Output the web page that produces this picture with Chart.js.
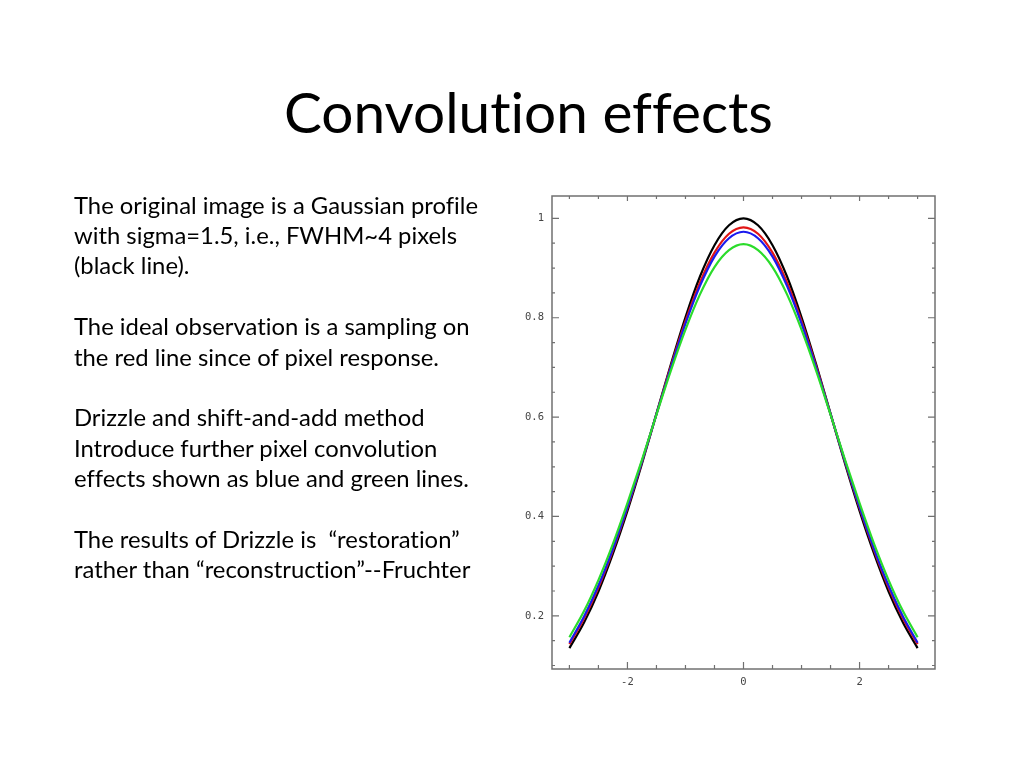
<!DOCTYPE html>
<html><head><meta charset="utf-8">
<script src="https://cdn.jsdelivr.net/npm/chart.js@4"></script>
<style>
html,body{margin:0;padding:0;background:#fff;width:1024px;height:768px;overflow:hidden;}
#c{position:absolute;left:0;top:0;}
.t{position:absolute;white-space:pre;color:#000;font-family:Lato,"Open Sans",sans-serif;font-variant-ligatures:none;font-feature-settings:"liga" 0,"clig" 0;}
</style></head><body>
<canvas id="c" width="1024" height="768"></canvas>
<div id="title" class="t">Convolution effects</div>
<div id="body"></div>
<script>
// ---- data ----
const xValues = [-3,-2.75,-2.5,-2.25,-2,-1.75,-1.5,-1.25,-1,-0.75,-0.5,-0.25,0,0.25,0.5,0.75,1,1.25,1.5,1.75,2,2.25,2.5,2.75,3];
const blackLine = [0.135,0.186,0.249,0.325,0.411,0.506,0.607,0.707,0.801,0.883,0.946,0.986,1.000,0.986,0.946,0.883,0.801,0.707,0.607,0.506,0.411,0.325,0.249,0.186,0.135];
const redLine   = [0.143,0.194,0.257,0.332,0.417,0.510,0.606,0.703,0.793,0.871,0.931,0.969,0.982,0.969,0.931,0.871,0.793,0.703,0.606,0.510,0.417,0.332,0.257,0.194,0.143];
const blueLine  = [0.146,0.198,0.261,0.335,0.419,0.511,0.606,0.700,0.788,0.864,0.923,0.960,0.973,0.960,0.923,0.864,0.788,0.700,0.606,0.511,0.419,0.335,0.261,0.198,0.146];
const greenLine = [0.157,0.209,0.272,0.345,0.427,0.514,0.605,0.694,0.776,0.847,0.902,0.936,0.948,0.936,0.902,0.847,0.776,0.694,0.605,0.514,0.427,0.345,0.272,0.209,0.157];
const xTickValues = [-2,0,2];
const xTickLabels = ['-2','0','2'];
const yTickValues = [0.2,0.4,0.6,0.8,1];
const yTickLabels = ['0.2','0.4','0.6','0.8','1'];
const xMinorTicks = [-3,-2.5,-2,-1.5,-1,-0.5,0,0.5,1,1.5,2,2.5,3];
const yMinorTicks = [0.1,0.15,0.2,0.25,0.3,0.35,0.4,0.45,0.5,0.55,0.6,0.65,0.7,0.75,0.8,0.85,0.9,0.95,1.0];

const titleText = 'Convolution effects';
const bodyLines = [
 'The original image is a Gaussian profile',
 'with sigma=1.5, i.e., FWHM~4 pixels',
 '(black line).',
 '',
 'The ideal observation is a sampling on',
 'the red line since of pixel response.',
 '',
 'Drizzle and shift-and-add method',
 'Introduce further pixel convolution',
 'effects shown as blue and green lines.',
 '',
 'The results of Drizzle is  \u201crestoration\u201d',
 'rather than \u201creconstruction\u201d--Fruchter'
];

// ---- text layout ----
const FONT = 'Lato, "Open Sans", sans-serif';
const mctx = document.createElement('canvas').getContext('2d');
function fontMetrics(size){ mctx.font = size + 'px ' + FONT; return mctx.measureText('Hg'); }
const probe = document.createElement('span');
probe.className = 't'; probe.style.visibility = 'hidden'; probe.style.fontSize = '100px'; probe.style.left = '0'; probe.style.top = '0';
document.body.appendChild(probe);
function domWidth(text){ probe.textContent = text; return probe.getBoundingClientRect().width; }
function place(el, text, size, x, baseline, center){
  const m = fontMetrics(size);
  const A = m.fontBoundingBoxAscent, D = m.fontBoundingBoxDescent;
  el.textContent = text;
  el.style.fontSize = size + 'px';
  el.style.lineHeight = (A + D) + 'px';
  el.style.top = (baseline - A) + 'px';
  const w = domWidth(text) * size / 100;
  el.style.left = (center ? x - w / 2 : x) + 'px';
}
const titleSize = 100 * 489 / domWidth(titleText);
place(document.getElementById('title'), titleText, titleSize, 528.5, 133, true);
const bodySize = 100 * 404 / domWidth(bodyLines[0]);
const bodyEl = document.getElementById('body');
bodyLines.forEach((ln, k) => {
  if (!ln) return;
  const d = document.createElement('div');
  d.className = 't';
  bodyEl.appendChild(d);
  place(d, ln, bodySize, 74, 213.5 + 30.4 * k, false);
});
probe.remove();

// ---- chart ----
const AXIS = '#707070';
const frame = {
  id: 'frame',
  afterDatasetsDraw(chart){
    const {ctx, chartArea: a, scales: {x, y}} = chart;
    ctx.save();
    ctx.strokeStyle = AXIS; ctx.lineWidth = 1.5;
    ctx.strokeRect(a.left, a.top, a.right - a.left, a.bottom - a.top);
    ctx.lineWidth = 1.2;
    ctx.beginPath();
    xMinorTicks.forEach(v => {
      const px = x.getPixelForValue(v);
      const major = xTickValues.includes(v);
      ctx.moveTo(px, a.bottom); ctx.lineTo(px, a.bottom - (major ? 7 : 4));
      ctx.moveTo(px, a.top); ctx.lineTo(px, a.top + (major ? 5 : 3));
    });
    yMinorTicks.forEach(v => {
      const py = y.getPixelForValue(v);
      const major = yTickValues.some(t => Math.abs(t - v) < 1e-6);
      ctx.moveTo(a.left, py); ctx.lineTo(a.left + (major ? 7 : 3), py);
      ctx.moveTo(a.right, py); ctx.lineTo(a.right - (major ? 7 : 3), py);
    });
    ctx.stroke();
    ctx.restore();
  }
};
const mk = (arr) => xValues.map((xv, i) => ({x: xv, y: arr[i]}));
const ds = (label, arr, color) => ({
  label, data: mk(arr), borderColor: color, backgroundColor: color,
  borderWidth: 2.2, pointRadius: 0, showLine: true, cubicInterpolationMode: 'monotone', fill: false
});
new Chart(document.getElementById('c'), {
  type: 'scatter',
  plugins: [frame],
  data: { datasets: [
    ds('green', greenLine, '#2bdc2b'),
    ds('blue', blueLine, '#1a1aee'),
    ds('red', redLine, '#e21515'),
    ds('black', blackLine, '#000000')
  ]},
  options: {
    responsive: false, animation: false,
    layout: { padding: { left: 500, right: 89, top: 196, bottom: 69 } },
    plugins: { legend: { display: false }, tooltip: { enabled: false } },
    scales: {
      x: {
        type: 'linear', min: -3.3, max: 3.3,
        afterFit: s => { s.height = 30; },
        afterBuildTicks: s => { s.ticks = xTickValues.map(v => ({value: v})); },
        grid: { display: false, drawTicks: false }, border: { display: false },
        ticks: { padding: 7, color: '#444', font: { family: 'DejaVu Sans Mono', size: 10.5 },
                 callback: (v) => xTickLabels[xTickValues.indexOf(v)] ?? '' }
      },
      y: {
        type: 'linear', min: 0.093, max: 1.045,
        afterFit: s => { s.width = 52; },
        afterBuildTicks: s => { s.ticks = yTickValues.map(v => ({value: v})); },
        grid: { display: false, drawTicks: false }, border: { display: false },
        ticks: { padding: 8, color: '#444', font: { family: 'DejaVu Sans Mono', size: 10.5 },
                 callback: (v) => yTickLabels[yTickValues.indexOf(v)] ?? '' }
      }
    }
  }
});
</script>
</body></html>
